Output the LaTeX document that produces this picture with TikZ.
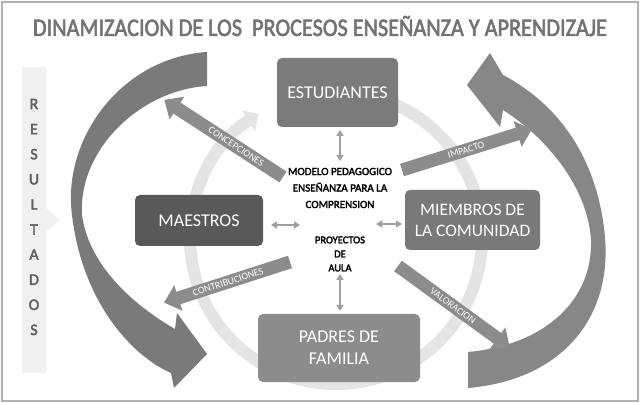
\documentclass[tikz,border=0pt]{standalone}
\usepackage{fontspec}
\setmainfont{Carlito}[BoldFont=Carlito, BoldFeatures={FakeBold=2.5}]
\usetikzlibrary{arrows.meta}
\definecolor{bigA}{HTML}{7A7A7A}
\definecolor{ringc}{HTML}{E4E4E4}
\definecolor{fatc}{HTML}{8C8C8C}
\tikzset{
  box/.style={rounded corners=5pt, text=white, align=center, font=\fontsize{18}{20}\selectfont, inner sep=0pt},
  fat/.style={draw=fatc, line width=13pt, -{Triangle[width=26pt,length=15pt]}, shorten >=-2pt},
  lab/.style={sloped, text=white, font=\fontsize{10}{10}\selectfont, inner sep=0pt},
  dbl/.style={draw=gray!75, line width=2.2pt, {Triangle[width=7pt,length=6pt]}-{Triangle[width=7pt,length=6pt]}},
  ctr/.style={align=center, font=\bfseries\fontsize{11}{16.5}\selectfont}
}
\begin{document}
\begin{tikzpicture}[x=1pt,y=-1pt]
\useasboundingbox (0,0) rectangle (640,403);
\fill[white] (0,0) rectangle (640,403);
\draw[gray!60, line width=1.5pt] (2,2) rectangle (638,401);
% title
\node[text=gray!90!black] (title) at (320,26) {\resizebox{574pt}{20pt}{\bfseries DINAMIZACION DE LOS\ \ PROCESOS ENSEÑANZA Y APRENDIZAJE}};
% resultados bar
\fill[gray!12] (22,67) rectangle (46,373);
\fill[gray!12] (46,208) -- (60,220) -- (46,232) -- cycle;
\foreach \l [count=\i] in {R,E,S,U,L,T,A,D,O,S}
  \node[text=gray!75!black, font=\bfseries\fontsize{16}{16}\selectfont] (r\i) at (34,104+25.1*\i-25.1) {\l};
% ring
\draw[ringc, line width=12pt, -{Triangle[width=24pt,length=12pt]}] (336,238) ++(-100:146) arc[start angle=-100, end angle=238, radius=146];
% big left arrow
\fill[bigA] (207,52) .. controls (120,58) and (62,140) .. (72,215)
  .. controls (82,300) and (130,355) .. (171,373)
  -- (174,388) -- (207,354) -- (177,313) -- (175,329)
  .. controls (125,300) and (88,260) .. (82,215)
  .. controls (78,150) and (140,90) .. (207,86) -- cycle;
% big right arrow
\fill[bigA!90] (468,388) .. controls (560,380) and (612,320) .. (605,237)
  .. controls (598,160) and (560,105) .. (503,75)
  -- (490,53) -- (467,85) -- (500,127) -- (503,110)
  .. controls (550,140) and (588,190) .. (591,240)
  .. controls (593,300) and (545,345) .. (468,352) -- cycle;
% boxes
\node[box, fill=gray!85!black!90, minimum width=121pt, minimum height=69pt] (est) at (337.5,92.5) {ESTUDIANTES};
\node[box, fill=gray!70!black, minimum width=128pt, minimum height=51pt] (mae) at (199,220.5) {MAESTROS};
\node[box, fill=gray!95!black, minimum width=135pt, minimum height=60pt, font=\fontsize{17.5}{21}\selectfont] (mie) at (472.5,220) {MIEMBROS DE\\LA COMUNIDAD};
\node[box, fill=fatc, minimum width=162pt, minimum height=68pt, font=\fontsize{18}{22}\selectfont] (pad) at (339,348) {PADRES DE\\FAMILIA};
% centre text
\node[ctr] (mod) at (340,188) {MODELO PEDAGOGICO\\ENSEÑANZA PARA LA\\COMPRENSION};
\node[ctr, font=\bfseries\fontsize{10.5}{14}\selectfont] (pro) at (340,254) {PROYECTOS\\DE\\AULA};
% coordinates for connectors
\coordinate (c1s) at (283,177); \coordinate (c1e) at (166,101);
\coordinate (c2s) at (402,170); \coordinate (c2e) at (530,130);
\coordinate (c3s) at (290,262); \coordinate (c3e) at (166,302);
\coordinate (c4s) at (398,266); \coordinate (c4e) at (508,346);
\draw[fat] (c1s) -- (c1e) node[lab, pos=0.4] {CONCEPCIONES};
\draw[fat] (c2s) -- (c2e) node[lab, pos=0.5] {IMPACTO};
\draw[fat] (c3s) -- (c3e) node[lab, pos=0.5] {CONTRIBUCIONES};
\draw[fat] (c4s) -- (c4e) node[lab, pos=0.5] {VALORACION};
% double arrows
\coordinate (d1) at (340,130); \coordinate (d2) at (340,161);
\coordinate (d3) at (340,274); \coordinate (d4) at (340,311);
\coordinate (d5) at (271,225); \coordinate (d6) at (300,225);
\coordinate (d7) at (376,224); \coordinate (d8) at (402,224);
\draw[dbl] (d1) -- (d2);
\draw[dbl] (d3) -- (d4);
\draw[dbl] (d5) -- (d6);
\draw[dbl] (d7) -- (d8);
\end{tikzpicture}
\end{document}
